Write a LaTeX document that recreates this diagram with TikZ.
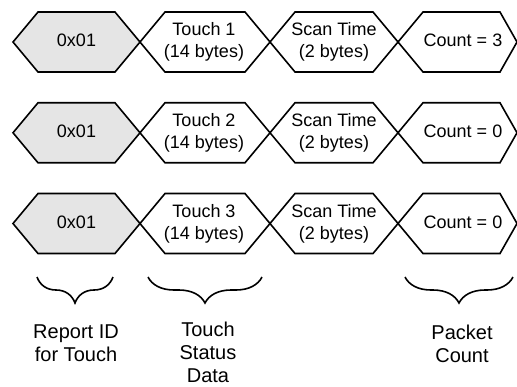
\documentclass[tikz,border=0pt]{standalone}
\usepackage{fontspec}
\setmainfont{Liberation Sans}
\usetikzlibrary{decorations.pathreplacing}
\definecolor{idgray}{gray}{0.9}
\tikzset{
  hexline/.style={draw=black, line width=1.6pt, line join=miter},
  idfill/.style={fill=idgray},
  hextext/.style={font=\fontsize{18}{22}\selectfont, align=center, inner sep=0pt, anchor=base},
  lbl/.style={font=\fontsize{20}{23}\selectfont, align=center, inner sep=0pt, anchor=base},
  bracedeco/.style={decorate, decoration={brace, mirror, amplitude=26pt}, line width=1.6pt},
}
\begin{document}
\begin{tikzpicture}[x=1pt,y=-1pt]
\useasboundingbox (0,0) rectangle (517,386);
\foreach \r/\m/\t/\c in {1/42/1/3, 2/132.75/2/0, 3/223.5/3/0} {
  \draw[hexline, idfill] (13,\m) -- (38,\m-30) -- (115,\m-30) -- (140,\m) -- (115,\m+30) -- (38,\m+30) -- cycle;
  \draw[hexline] (140,\m) -- (165,\m-30) -- (245,\m-30) -- (270,\m) -- (245,\m+30) -- (165,\m+30) -- cycle;
  \draw[hexline] (270,\m) -- (295,\m-30) -- (373,\m-30) -- (398,\m) -- (373,\m+30) -- (295,\m+30) -- cycle;
  \draw[hexline] (398,\m) -- (423,\m-30) -- (500,\m-30) -- (517,\m) -- (500,\m+30) -- (423,\m+30) -- cycle;
  \node[hextext] (id\r) at (76.5,\m+4.5) {0x01};
  \node[hextext] (touch\r) at (204,\m+15.5) {Touch \t\\(14 bytes)};
  \node[hextext] (scan\r) at (334,\m+15.5) {Scan Time\\(2 bytes)};
  \node[hextext] (count\r) at (463,\m+4.5) {Count = \c};
}
\coordinate (b1l) at (37,277);
\coordinate (b1r) at (113,277);
\coordinate (b2l) at (148,277);
\coordinate (b2r) at (262,277);
\coordinate (b3l) at (405,277);
\coordinate (b3r) at (513,277);
\draw[bracedeco] (b1l) -- (b1r);
\draw[bracedeco] (b2l) -- (b2r);
\draw[bracedeco] (b3l) -- (b3r);
\node[lbl] (lreport) at (76,361) {Report ID\\for Touch};
\node[lbl] (ltouch) at (208,382) {Touch\\Status\\Data};
\node[lbl] (lpacket) at (462,362) {Packet\\Count};
\end{tikzpicture}
\end{document}
